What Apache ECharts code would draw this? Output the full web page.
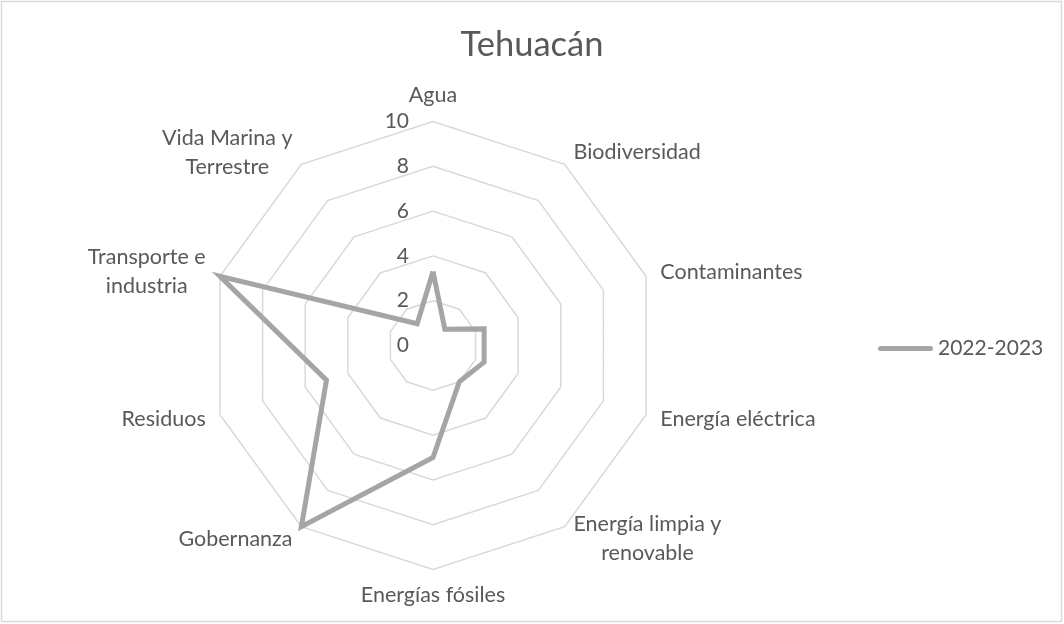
<!DOCTYPE html>
<html>
<head>
<meta charset="utf-8">
<script src="https://cdn.jsdelivr.net/npm/echarts@6/dist/echarts.min.js"></script>
<style>
html,body{margin:0;padding:0;background:#fff;}
#chart{width:1064px;height:624px;}
</style>
</head>
<body>
<div id="chart"></div>
<script>
const titleText = 'Tehuacán';
const categories = ['Agua', 'Biodiversidad', 'Contaminantes', 'Energía eléctrica', 'Energía limpia y renovable', 'Energías fósiles', 'Gobernanza', 'Residuos', 'Transporte e industria', 'Vida Marina y Terrestre'];
const seriesName = '2022-2023';
const values = [3.3, 0.9, 2.4, 2.4, 2.0, 5.0, 10, 5.0, 10, 1.2];
const axisMax = 10;
const axisInterval = 2;

const FONT = 'Lato';
const TXT = '#595959';
const LBL = 21.5;

const wrapMap = {
  'Energía limpia y renovable': '{c|Energía limpia y}\n{c|renovable}',
  'Transporte e industria': '{c|Transporte e}\n{c|industria}',
  'Vida Marina y Terrestre': '{c|Vida Marina y}\n{c|Terrestre}'
};

// ECharts radar runs counter-clockwise; Excel runs clockwise -> reorder (keep first)
const order = [0].concat(categories.map((_, i) => i).slice(1).reverse());

const indicator = order.map((idx, k) => {
  const o = {name: categories[idx], min: 0, max: axisMax};
  if (k === 0) {
    o.axisLabel = {show: true, margin: 24, fontSize: 21, color: TXT, fontFamily: FONT, verticalAlign: 'middle', padding: [10, 0, 0, 0]};
  }
  return o;
});
const orderedValues = order.map(idx => values[idx]);

const chart = echarts.init(document.getElementById('chart'), null, {renderer: 'canvas'});
chart.setOption({
  backgroundColor: '#ffffff',
  animation: false,
  title: {
    text: titleText,
    left: 'center',
    top: 22,
    textStyle: {fontFamily: FONT, fontSize: 34.5, fontWeight: 'normal', color: TXT}
  },
  legend: {
    data: [seriesName],
    left: 873,
    top: 333,
    itemWidth: 55,
    itemHeight: 5,
    itemGap: 5,
    icon: 'path://M2.5,0 L52.5,0 A2.5,2.5 0 0 1 52.5,5 L2.5,5 A2.5,2.5 0 0 1 2.5,0 Z',
    textStyle: {fontFamily: FONT, fontSize: 21, color: TXT, padding: [0, 0, 0, 0]}
  },
  graphic: [{
    type: 'rect',
    shape: {x: 1.5, y: 1.5, width: 1060, height: 620},
    style: {fill: 'none', stroke: '#D9D9D9', lineWidth: 1.5},
    silent: true
  }],
  radar: {
    center: [433, 345.5],
    radius: 224,
    startAngle: 90,
    shape: 'polygon',
    splitNumber: axisMax / axisInterval,
    indicator: indicator,
    axisName: {
      color: TXT,
      fontFamily: FONT,
      fontSize: LBL,
      formatter: function (name) { return wrapMap[name] || name; },
      rich: {
        c: {align: 'center', fontFamily: FONT, fontSize: LBL, color: TXT, lineHeight: 29}
      }
    },
    nameGap: 15,
    axisLine: {show: false},
    axisTick: {show: false},
    axisLabel: {show: false},
    splitArea: {show: false},
    splitLine: {lineStyle: {color: '#D9D9D9', width: 1.5}}
  },
  series: [{
    type: 'radar',
    name: seriesName,
    symbol: 'none',
    lineStyle: {color: '#A5A5A5', width: 5, join: 'miter'},
    itemStyle: {color: '#A5A5A5'},
    data: [{value: orderedValues, name: seriesName}]
  }]
});
</script>
</body>
</html>
